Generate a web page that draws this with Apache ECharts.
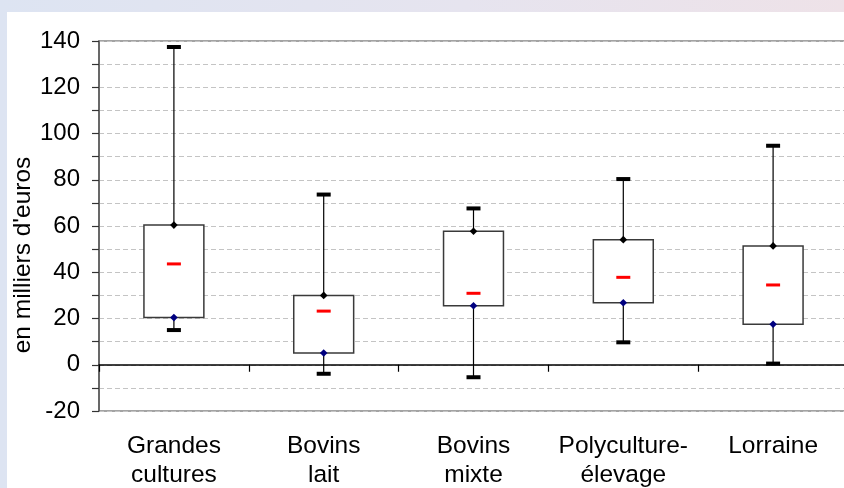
<!DOCTYPE html>
<html>
<head>
<meta charset="utf-8">
<script src="https://cdn.jsdelivr.net/npm/echarts@6/dist/echarts.min.js"></script>
<style>
  html, body { margin: 0; padding: 0; width: 844px; height: 488px; overflow: hidden;
    background: linear-gradient(to right, #dde4f2, #e6e4ef 55%, #eee2e8); }
  #chart { position: absolute; left: 7px; top: 12px; width: 837px; height: 476px; background: #ffffff; }
</style>
</head>
<body>
<div id="chart"></div>
<script>
const categories = ['Grandes\ncultures', 'Bovins\nlait', 'Bovins\nmixte', 'Polyculture-\nélevage', 'Lorraine'];
const minValues  = [15.0, -3.9, -5.4, 9.7, 0.5];
const q1Values   = [20.4, 5.1, 25.5, 26.8, 17.5];
const meanValues = [43.6, 23.2, 30.9, 37.8, 34.5];
const q3Values   = [60.4, 30.0, 57.7, 54.1, 51.4];
const maxValues  = [137.4, 73.6, 67.6, 80.3, 94.7];
const yTicks = [-20, 0, 20, 40, 60, 80, 100, 120, 140];

const FONT = "'Liberation Sans', Arial, sans-serif";
const boxData = categories.map((c, i) => [i, minValues[i], q1Values[i], meanValues[i], q3Values[i], maxValues[i]]);

function renderBox(params, api) {
  const i = api.value(0);
  const pMin = api.coord([i, api.value(1)]);
  const pQ1 = api.coord([i, api.value(2)]);
  const pMean = api.coord([i, api.value(3)]);
  const pQ3 = api.coord([i, api.value(4)]);
  const pMax = api.coord([i, api.value(5)]);
  const bandW = api.size([1, 0])[0];
  const boxW = bandW * 0.4;
  const x = pQ1[0];
  const capW = 14, capH = 4, meanW = 14, meanH = 3, d = 3.8;
  const diamond = (p, color) => ({
    type: 'polygon',
    shape: { points: [[p[0], p[1] - d], [p[0] + d, p[1]], [p[0], p[1] + d], [p[0] - d, p[1]]] },
    style: { fill: color }
  });
  return {
    type: 'group',
    children: [
      { type: 'line', shape: { x1: x, y1: pQ3[1], x2: x, y2: pMax[1] }, style: { stroke: '#000', lineWidth: 1.2 } },
      { type: 'line', shape: { x1: x, y1: pQ1[1], x2: x, y2: pMin[1] }, style: { stroke: '#000', lineWidth: 1.2 } },
      { type: 'rect', shape: { x: x - boxW / 2, y: pQ3[1], width: boxW, height: pQ1[1] - pQ3[1] },
        style: { fill: '#fff', stroke: '#3a3a3a', lineWidth: 1.5 } },
      { type: 'rect', shape: { x: x - capW / 2, y: pMax[1] - capH / 2, width: capW, height: capH }, style: { fill: '#000' } },
      { type: 'rect', shape: { x: x - capW / 2, y: pMin[1] - capH / 2, width: capW, height: capH }, style: { fill: '#000' } },
      { type: 'rect', shape: { x: x - meanW / 2, y: pMean[1] - meanH / 2, width: meanW, height: meanH }, style: { fill: '#ff0000' } },
      diamond(pQ3, '#000000'),
      diamond(pQ1, '#000080')
    ]
  };
}

const chart = echarts.init(document.getElementById('chart'), null, { renderer: 'canvas' });
chart.setOption({
  animation: false,
  backgroundColor: '#ffffff',
  textStyle: { fontFamily: FONT },
  grid: { left: 92, right: -4, top: 29, bottom: 77, containLabel: false, outerBoundsMode: 'none',
    show: true, borderColor: '#858585', borderWidth: 1.5, backgroundColor: 'transparent' },
  xAxis: [
    {
      type: 'category', data: categories, position: 'bottom',
      axisLine: { show: false, onZero: false },
      axisTick: { show: false },
      axisLabel: { color: '#000', fontSize: 24.5, lineHeight: 29, margin: 21, fontFamily: FONT, interval: 0 },
      splitLine: { show: false }
    },
    {
      type: 'category', data: categories, position: 'bottom',
      axisLine: { show: true, onZero: true, lineStyle: { color: '#000', width: 1.5 } },
      axisTick: { show: true, length: 7, lineStyle: { color: '#000', width: 1.2 } },
      axisLabel: { show: false },
      splitLine: { show: false }
    }
  ],
  yAxis: {
    type: 'value', min: -20, max: 140, interval: 10,
    name: "en milliers d'euros", nameLocation: 'middle', nameGap: 63, nameRotate: 90, nameMoveOverlap: false,
    nameTextStyle: { color: '#000', fontSize: 24.5, fontFamily: FONT, padding: [0, 58, 0, 0] },
    axisLine: { show: true, lineStyle: { color: '#555', width: 1.5 } },
    axisTick: { show: true, length: 7, lineStyle: { color: '#333', width: 1.2 } },
    axisLabel: { color: '#000', fontSize: 24, margin: 19, fontFamily: FONT,
      formatter: v => (yTicks.indexOf(v) >= 0 ? String(v) : '') },
    splitLine: { show: true, lineStyle: { color: '#c4c4c4', type: [5, 3], width: 1 } }
  },
  series: [{
    type: 'custom', xAxisIndex: 0, yAxisIndex: 0, data: boxData, renderItem: renderBox,
    encode: { x: 0, y: [1, 2, 3, 4, 5] }, clip: false, z: 3
  }]
});
</script>
</body>
</html>
